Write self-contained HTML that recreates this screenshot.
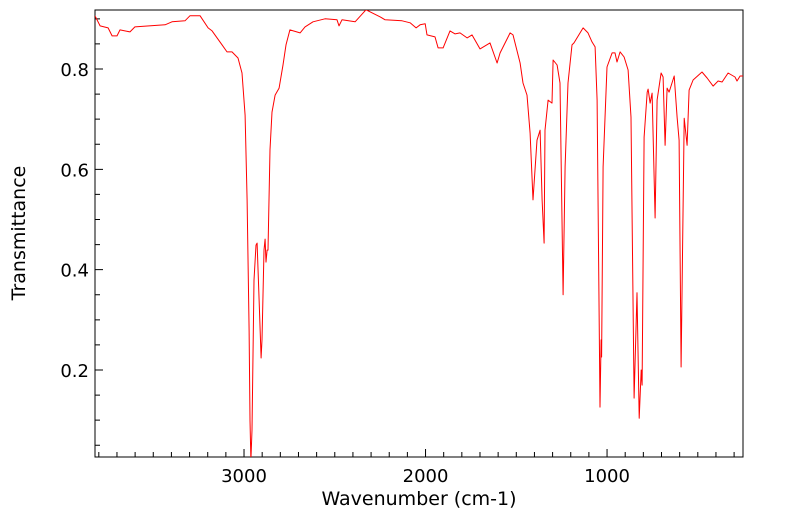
<!DOCTYPE html>
<html><head><meta charset="utf-8"><style>
html,body{margin:0;padding:0;background:#fff;}
svg{display:block;font-family:"DejaVu Sans","Liberation Sans",sans-serif;}
</style></head><body>
<svg id="chart" width="799" height="516">
<defs><clipPath id="clip"><rect x="95" y="10" width="648" height="447"/></clipPath></defs>
<rect x="95" y="10" width="648" height="447" fill="#fff" stroke="#000" stroke-width="1"/>
<g id="ticks"></g>
<path id="spectrum" clip-path="url(#clip)" fill="none" stroke="#ff0000" stroke-width="1" stroke-linejoin="round"/>
<text x="419" y="505" text-anchor="middle" font-size="19">Wavenumber (cm-1)</text>
<text transform="translate(25,233) rotate(-90)" text-anchor="middle" font-size="19">Transmittance</text>
</svg>
<script>
const wavenumbers=[3821,3793,3749,3727,3700,3683,3656,3628,3601,3435,3397,3325,3298,3242,3198,3176,3121,3094,3066,3033,3011,2994,2983,2972,2967,2962,2956,2945,2934,2928,2917,2906,2901,2890,2884,2879,2873,2868,2857,2846,2829,2807,2785,2769,2747,2691,2664,2620,2554,2488,2477,2460,2388,2328,2251,2223,2129,2085,2052,2030,2002,1992,1948,1931,1903,1865,1837,1810,1771,1744,1700,1645,1606,1589,1534,1518,1479,1463,1441,1424,1408,1386,1369,1358,1347,1342,1325,1303,1297,1275,1259,1242,1231,1215,1193,1182,1132,1105,1083,1066,1055,1039,1033,1030,1022,1000,972,956,945,928,906,884,868,851,835,823,812,807,796,779,774,763,752,735,724,702,691,680,669,658,630,614,603,592,575,559,548,526,477,449,416,388,366,333,295,284,267,251];
const transmittance=[0.906,0.886,0.882,0.866,0.866,0.878,0.876,0.874,0.884,0.888,0.894,0.896,0.906,0.906,0.882,0.876,0.848,0.834,0.834,0.822,0.792,0.708,0.539,0.280,0.100,0.020,0.080,0.379,0.449,0.453,0.340,0.224,0.260,0.439,0.461,0.415,0.439,0.439,0.639,0.714,0.748,0.762,0.808,0.848,0.878,0.872,0.884,0.894,0.900,0.898,0.886,0.898,0.894,0.918,0.904,0.898,0.896,0.892,0.882,0.888,0.890,0.868,0.864,0.842,0.842,0.876,0.870,0.872,0.862,0.868,0.840,0.852,0.812,0.832,0.872,0.868,0.812,0.772,0.748,0.672,0.539,0.658,0.678,0.539,0.453,0.678,0.738,0.732,0.818,0.808,0.772,0.350,0.605,0.772,0.848,0.852,0.882,0.872,0.854,0.844,0.738,0.126,0.260,0.226,0.605,0.804,0.832,0.832,0.814,0.834,0.824,0.798,0.704,0.144,0.354,0.104,0.200,0.170,0.664,0.754,0.760,0.732,0.752,0.503,0.738,0.792,0.784,0.648,0.762,0.754,0.786,0.704,0.658,0.206,0.702,0.648,0.758,0.778,0.794,0.782,0.766,0.776,0.774,0.792,0.784,0.776,0.786,0.786];
const xTickLabels=[3000,2000,1000];
const yTickLabels=[0.2,0.4,0.6,0.8];
const xDomain=[3821,251], yDomain=[0.0266,0.9176];
const L=95,R=743,T=10,B=457;
function xs(v){return L+(v-xDomain[0])/(xDomain[1]-xDomain[0])*(R-L);}
function ys(v){return B-(v-yDomain[0])/(yDomain[1]-yDomain[0])*(B-T);}
const ns='http://www.w3.org/2000/svg';
const p=document.getElementById('spectrum');
p.setAttribute('d',wavenumbers.map((w,i)=>(i?'L':'M')+xs(w).toFixed(1)+','+ys(transmittance[i]).toFixed(1)).join(''));
const g=document.getElementById('ticks');
let d='';
for(let w=3800;w>=300;w-=100){const x=xs(w);const major=w%1000===0;d+='M'+x+','+B+'V'+(B-(major?8:5));}
for(let k=1;k<=18;k++){const v=k*0.05;if(v<yDomain[0]||v>yDomain[1])continue;const y=ys(v);const major=Math.abs(v*10-Math.round(v*10))<1e-6&&Math.round(v*10)%2===0;d+='M'+L+','+y+'H'+(L+(major?8:5));}
const tp=document.createElementNS(ns,'path');
tp.setAttribute('d',d);tp.setAttribute('stroke','#000');tp.setAttribute('fill','none');


g.appendChild(tp);
xTickLabels.forEach(v=>{const t=document.createElementNS(ns,'text');t.setAttribute('x',xs(v));t.setAttribute('y',482);t.setAttribute('text-anchor','middle');t.setAttribute('font-size','18');t.textContent=v;


g.appendChild(t);});
yTickLabels.forEach(v=>{const t=document.createElementNS(ns,'text');t.setAttribute('x',89);t.setAttribute('y',ys(v)+7);t.setAttribute('text-anchor','end');t.setAttribute('font-size','18');t.textContent=v.toFixed(1);


g.appendChild(t);});
</script>
</body></html>
